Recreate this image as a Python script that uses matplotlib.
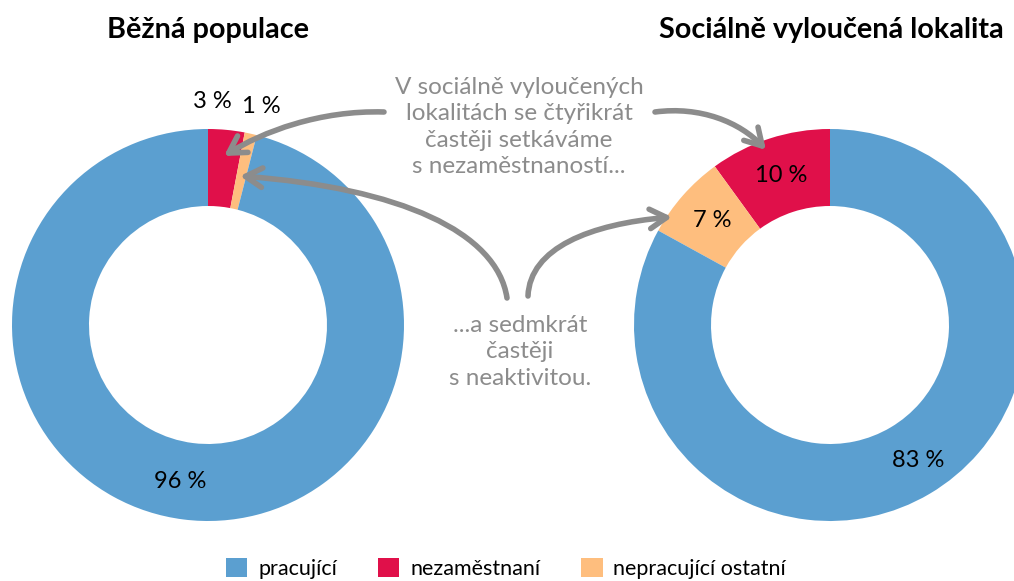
import matplotlib
matplotlib.use("Agg")
import matplotlib.pyplot as plt
import numpy as np
from matplotlib.patches import Patch, FancyArrowPatch
from matplotlib.path import Path

# ---- data ----
categories = ["pracující", "nezaměstnaní", "nepracující ostatní"]
colors = ["#5B9FD0", "#E0104A", "#FEBE7E"]
bezna = [96, 3, 1]
vyloucena = [83, 10, 7]
titles = ["Běžná populace", "Sociálně vyloučená lokalita"]
note_top = "V sociálně vyloučených\nlokalitách se čtyřikrát\nčastěji setkáváme\ns nezaměstnaností..."
note_bottom = "...a sedmkrát\nčastěji\ns neaktivitou."

W, H = 1014, 581
fig = plt.figure(figsize=(W / 100, H / 100), dpi=100)
ax = fig.add_axes([0, 0, 1, 1])

def Y(y_img):
    return H - y_img

R_OUT, R_IN = 196, 119
order = [1, 2, 0]  # draw unemployed, other, working from 12 o'clock
font = "Lato"

def donut(values, cx, cy, counterclock):
    vals = [values[i] for i in order]
    cols = [colors[i] for i in order]
    wedges, _ = ax.pie(vals, colors=cols, startangle=90, counterclock=counterclock,
                       radius=R_OUT, center=(cx, cy),
                       wedgeprops=dict(width=R_OUT - R_IN, linewidth=0))
    return wedges, vals

def mid_pos(w, r):
    a = np.deg2rad((w.theta1 + w.theta2) / 2)
    cx, cy = w.center
    return cx + r * np.cos(a), cy + r * np.sin(a)

lw, lv = donut(bezna, 208, Y(325), counterclock=False)
rw, rv = donut(vyloucena, 830, Y(325), counterclock=True)

rmid = (R_OUT + R_IN) / 2
for w, v in zip(lw, lv):
    if v >= 5:
        x, y = mid_pos(w, rmid)
        dx = -8
    else:
        x, y = mid_pos(w, 224)
        dx = -17 if v == 3 else 4
    ax.text(x + dx, y, f"{v} %", ha="center", va="center", fontsize=17,
            family=font, color="black")
for w, v in zip(rw, rv):
    x, y = mid_pos(w, rmid)
    ax.text(x + (8 if v > 50 else 0), y, f"{v} %", ha="center", va="center",
            fontsize=17, family=font, color="black")

ax.text(208, Y(30), titles[0], ha="center", va="center", fontsize=20.7,
        fontweight="bold", family=font)
ax.text(831, Y(30), titles[1], ha="center", va="center", fontsize=20.7,
        fontweight="bold", family=font)

gray = "#8C8C8C"
ax.text(519, Y(127), note_top, ha="center", va="center", fontsize=17.5,
        family=font, color=gray, linespacing=1.3)
ax.text(520, Y(352), note_bottom, ha="center", va="center", fontsize=17.5,
        family=font, color=gray, linespacing=1.3)

def arrow(pts):
    pts = [(x, Y(y)) for x, y in pts]
    p = Path(pts, [Path.MOVETO, Path.CURVE4, Path.CURVE4, Path.CURVE4])
    a = FancyArrowPatch(path=p, arrowstyle="->,head_length=12,head_width=7",
                        color=gray, lw=4, capstyle="round", joinstyle="round")
    ax.add_patch(a)

arrow([(384, 112), (320, 110), (262, 132), (224, 156)])
arrow([(655, 112), (700, 106), (740, 122), (766, 150)])
arrow([(507, 298), (497, 232), (400, 188), (240, 176)])
arrow([(528, 296), (530, 248), (590, 224), (672, 217)])

ax.set_xlim(0, W)
ax.set_ylim(0, H)
ax.set_aspect("auto")
ax.axis("off")

handles = [Patch(facecolor=c, edgecolor="none") for c in colors]
fig.legend(handles, categories, loc="lower center", bbox_to_anchor=(506 / W, -0.03),
           ncol=3, frameon=False, prop=dict(family=font, size=15.5),
           handlelength=1.0, handleheight=1.0, handletextpad=0.5, columnspacing=1.9)

fig.savefig("out.png", dpi=100)
